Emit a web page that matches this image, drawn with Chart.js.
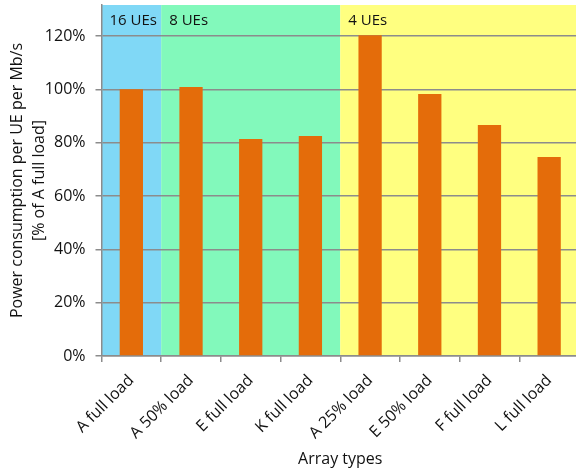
<!DOCTYPE html>
<html>
<head>
<meta charset="utf-8">
<script src="https://cdn.jsdelivr.net/npm/chart.js@4/dist/chart.umd.min.js"></script>
<style>
  html, body { margin: 0; padding: 0; background: #fff; overflow: hidden; }
  #wrap { width: 579px; height: 473px; position: relative; }
</style>
</head>
<body>
<div id="wrap"><canvas id="c"></canvas></div>
<script>
// Array types and relative power consumption per UE per Mb/s (% of A full load)
const categories = ['A full load', 'A 50% load', 'E full load', 'K full load',
                    'A 25% load', 'E 50% load', 'F full load', 'L full load'];
const powerPct = [100, 100.9, 81.4, 82.5, 120.3, 98.2, 86.6, 74.6];

// UE-count groups shaded behind the bars: label, number of categories, colour
const groupLabels = ['16 UEs', '8 UEs', '4 UEs'];
const groupSizes = [1, 3, 4];
const groupColors = ['#80d8f6', '#82f9bb', '#ffff80'];

const yTicks = [0, 20, 40, 60, 80, 100, 120];

const FONT = '"Open Sans", Lato, sans-serif';

const groupBands = {
  id: 'groupBands',
  beforeDraw(chart) {
    const { ctx, chartArea, scales } = chart;
    const x = scales.x;
    const step = x.getPixelForValue(1) - x.getPixelForValue(0);
    let start = 0;
    ctx.save();
    groupSizes.forEach((n, i) => {
      const left = x.getPixelForValue(start) - step / 2;
      const right = x.getPixelForValue(start + n - 1) + step / 2;
      ctx.fillStyle = groupColors[i];
      ctx.fillRect(left, chartArea.top, right - left, chartArea.bottom - chartArea.top);
      start += n;
    });
    ctx.restore();
  },
  afterDatasetsDraw(chart) {
    const { ctx, chartArea, scales } = chart;
    const x = scales.x;
    const step = x.getPixelForValue(1) - x.getPixelForValue(0);
    let start = 0;
    ctx.save();
    ctx.font = '15px ' + FONT;
    ctx.fillStyle = '#111';
    ctx.textBaseline = 'middle';
    ctx.textAlign = 'left';
    groupSizes.forEach((n, i) => {
      const left = x.getPixelForValue(start) - step / 2;
      ctx.fillText(groupLabels[i], left + 8, chartArea.top + 16);
      start += n;
    });
    ctx.restore();
  }
};

new Chart(document.getElementById('c'), {
  type: 'bar',
  data: {
    labels: categories,
    datasets: [{
      data: powerPct,
      backgroundColor: '#e46c0a',
      borderWidth: 0,
      categoryPercentage: 1,
      barPercentage: 0.39
    }]
  },
  options: {
    responsive: true,
    maintainAspectRatio: false,
    animation: false,
    layout: { padding: { top: 5, right: 0, bottom: 4, left: 0 } },
    plugins: { legend: { display: false }, tooltip: { enabled: false } },
    scales: {
      x: {
        offset: true,
        grid: { display: true, drawOnChartArea: false, drawTicks: true, tickLength: 6, color: '#8c8c8c', lineWidth: 1.5, offset: true },
        border: { color: '#8c8c8c', width: 1.5 },
        ticks: { color: '#111', font: { size: 16, family: FONT }, minRotation: 45, maxRotation: 45, padding: 9 },
        title: { display: true, text: 'Array types', color: '#111', font: { size: 16, family: FONT }, padding: { top: 0, bottom: 0 } },
        afterFit(scale) { scale.height = 113; }
      },
      y: {
        min: 0,
        max: 131.6,
        afterBuildTicks(scale) { scale.ticks = yTicks.map(v => ({ value: v })); },
        grid: { color: '#8c8c8c', lineWidth: 1.5, tickLength: 6, drawTicks: true },
        border: { color: '#8c8c8c', width: 1.5 },
        ticks: { color: '#111', font: { size: 16, family: FONT }, padding: 10, callback: v => v + '%' },
        title: {
          display: true,
          text: ['Power consumption per UE per Mb/s', '[% of A full load]'],
          color: '#111', font: { size: 16, family: FONT, lineHeight: 1.35 }, padding: { top: 7, bottom: 4 }
        },
        afterFit(scale) {
          scale.width = 101.5;
          scale.paddingTop = 0;
          scale.paddingBottom = 0;
        }
      }
    }
  },
  plugins: [groupBands]
});
</script>
</body>
</html>
